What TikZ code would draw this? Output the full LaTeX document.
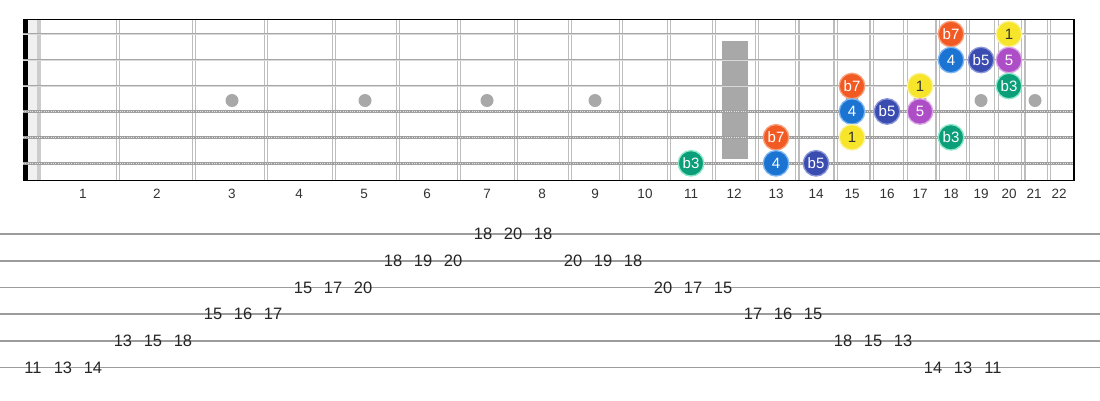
\documentclass[tikz,border=0pt]{standalone}
\usepackage{fontspec}
\setmainfont{Liberation Sans}
\definecolor{cBseven}{HTML}{F25A24}
\definecolor{cBsevenR}{HTML}{F9A07A}
\definecolor{cOne}{HTML}{F6E52A}
\definecolor{cOneR}{HTML}{FBF3A0}
\definecolor{cFour}{HTML}{1C74D2}
\definecolor{cFourR}{HTML}{7DB6F0}
\definecolor{cBfive}{HTML}{3A4CB0}
\definecolor{cBfiveR}{HTML}{8A96D8}
\definecolor{cFive}{HTML}{AE4EC6}
\definecolor{cFiveR}{HTML}{D9A4E6}
\definecolor{cBthree}{HTML}{0B9E78}
\definecolor{cBthreeR}{HTML}{8AE8C8}
\definecolor{fretgray}{HTML}{BDBDBD}
\definecolor{strgray}{HTML}{A6A6A6}
\definecolor{inlay}{HTML}{A8A8A8}
\definecolor{tabline}{HTML}{9C9C9C}
\tikzset{
  note/.style={circle, minimum size=25.5pt, inner sep=0pt, line width=1.3pt, text=white,
    font=\fontsize{15}{15}\selectfont},
  nBseven/.style={note, fill=cBseven, draw=cBsevenR},
  nOne/.style={note, fill=cOne, draw=cOneR, text=black!80},
  nFour/.style={note, fill=cFour, draw=cFourR},
  nBfive/.style={note, fill=cBfive, draw=cBfiveR},
  nFive/.style={note, fill=cFive, draw=cFiveR},
  nBthree/.style={note, fill=cBthree, draw=cBthreeR},
  fretwire/.style={line width=1.1pt, draw=fretgray},
  plainstr/.style={line width=2.8pt, draw=strgray},
  plaincore/.style={line width=0.8pt, draw=gray!30},
  woundbase/.style={line width=3.4pt, draw=gray!75},
  woundtop/.style={line width=1.4pt, draw=white!80!gray, dash pattern=on 1pt off 1.3pt},
  fretlabel/.style={inner sep=0pt, text=black!80, font=\fontsize{13.5}{13.5}\selectfont},
  tabnum/.style={inner sep=0pt, text=black!85, font=\fontsize{16.5}{16.5}\selectfont},
  tabstaff/.style={line width=1.6pt, draw=tabline},
  dotmark/.style={circle, fill=inlay, minimum size=13pt, inner sep=0pt},
}
\begin{document}
\begin{tikzpicture}[x=1pt, y=-1pt]
\useasboundingbox (0,0) rectangle (1100,400);
\fill[white] (0,0) rectangle (1100,400);
% nut
\fill[black] (23,19) rectangle (28,181);
\fill[gray!12] (28,20) rectangle (36.5,180);
\fill[gray!40] (36.5,20) rectangle (41,180);
% fret wires
\foreach \fx in {117.8,194.1,266.1,334.1,398.2,458.8,515.9,569.9,620.8,668.8,714.2,757,797.4,835.6,871.6,905.5,937.6,967.9,996.5,1023.4,1048.9} {
  \draw[fretwire] (\fx-1.6,20) -- (\fx-1.6,180);
  \draw[fretwire] (\fx+1.6,20) -- (\fx+1.6,180);
}
% inlays
\fill[inlay] (722,40.5) rectangle (748,158.5);
\foreach \dx [count=\k] in {232,365,487,595,852,920,981,1035} {
  \node[dotmark] (dot\k) at (\dx,100.5) {};
}
% strings
\foreach \sy in {34,60,86} {
  \draw[plainstr] (23,\sy) -- (1074,\sy);
  \draw[plaincore] (23,\sy) -- (1074,\sy);
}
\foreach \sy in {111.5,137.3,163.3} {
  \draw[woundbase] (23,\sy) -- (1074,\sy);
  \draw[woundtop] (23,\sy) -- (1074,\sy);
}
% borders
\draw[line width=1.5pt] (23,19.5) -- (1074,19.5);
\draw[line width=1.5pt] (23,180.5) -- (1074,180.5);
\draw[line width=2pt] (1074,19) -- (1074,181);
% fret numbers
\foreach \lx [count=\n] in {83,157,232,299,364,427,487,542,595,645,691,734,776,816,852,887,920,951,981,1009,1034,1059} {
  \node[fretlabel] (fl\n) at (\lx,194) {\n};
}
% notes
\node[nBseven] (s1f18) at (951,34) {b7};
\node[nOne]    (s1f20) at (1009,34) {1};
\node[nFour]   (s2f18) at (951,60) {4};
\node[nBfive]  (s2f19) at (981,60) {b5};
\node[nFive]   (s2f20) at (1009,60) {5};
\node[nBseven] (s3f15) at (852,86) {b7};
\node[nOne]    (s3f17) at (920,86) {1};
\node[nBthree] (s3f20) at (1009,86) {b3};
\node[nFour]   (s4f15) at (852,111.5) {4};
\node[nBfive]  (s4f16) at (887,111.5) {b5};
\node[nFive]   (s4f17) at (920,111.5) {5};
\node[nBseven] (s5f13) at (776,137.3) {b7};
\node[nOne]    (s5f15) at (852,137.3) {1};
\node[nBthree] (s5f18) at (951,137.3) {b3};
\node[nBthree] (s6f11) at (691,163.3) {b3};
\node[nFour]   (s6f13) at (776,163.3) {4};
\node[nBfive]  (s6f14) at (816,163.3) {b5};
% tab staff
\foreach \ty in {234,260.7,287.4,314.1,340.8,367.5} {
  \draw[tabstaff] (0,\ty) -- (1100,\ty);
}
\foreach \v/\l [count=\i from 0] in {11/6,13/6,14/6,13/5,15/5,18/5,15/4,16/4,17/4,15/3,17/3,20/3,18/2,19/2,20/2,18/1,20/1,18/1,20/2,19/2,18/2,20/3,17/3,15/3,17/4,16/4,15/4,18/5,15/5,13/5,14/6,13/6,11/6} {
  \node[tabnum] (t\i) at ({33+30*\i},{234+(\l-1)*26.7}) {\v};
}
\end{tikzpicture}
\end{document}
